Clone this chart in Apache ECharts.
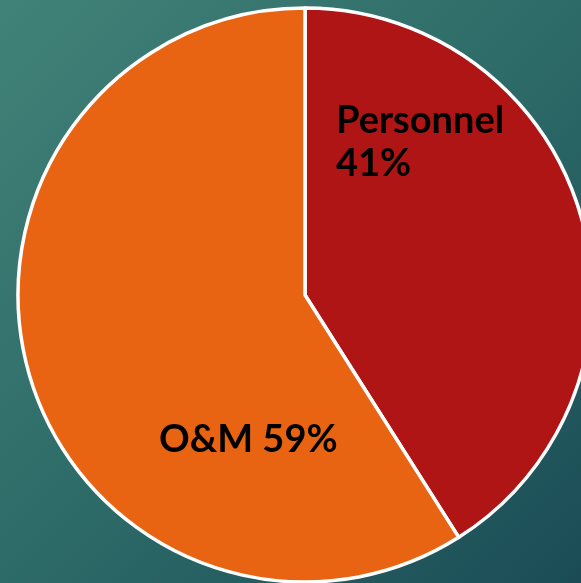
<!DOCTYPE html>
<html>
<head>
<meta charset="utf-8">
<style>
  html, body { margin: 0; padding: 0; }
  #chart {
    width: 581px; height: 583px;
    background: linear-gradient(135deg, #418278 0%, #2d6b68 50%, #1b4c56 100%);
  }
</style>
<script src="https://cdn.jsdelivr.net/npm/echarts@6/dist/echarts.min.js"></script>
</head>
<body>
<div id="chart"></div>
<script>
var categories = ['Personnel', 'O&M']
var values = [41, 59]
var colors = ['#b01515', '#e86412']

var chart = echarts.init(document.getElementById('chart'))

var pieData = []
for (var i = 0; i < categories.length; i++) {
  pieData.push({ name: categories[i], value: values[i], itemStyle: { color: colors[i] } })
}

var option = {
  backgroundColor: 'transparent',
  animation: false,
  series: [
    {
      type: 'pie',
      center: [305, 295],
      radius: [0, 287],
      startAngle: 90,
      clockwise: true,
      itemStyle: {
        borderColor: '#ffffff',
        borderWidth: 3.5,
      },
      label: {
        show: true,
        position: 'inside',
        color: '#000',
        fontFamily: 'Lato',
        fontWeight: 'bold',
        fontSize: 38,
        lineHeight: 43,
        align: 'left',
        formatter: function (p) {
          // personnel label wraps onto 2 lines
          if (p.dataIndex === 0) return p.name + '\n' + p.percent + '%'
          return p.name + ' ' + p.percent + '%'
        },
      },
      labelLine: { show: false },
      labelLayout: function (params) {
        if (params.dataIndex === 0) {
          return { x: 336, y: 142, align: 'left', verticalAlign: 'middle' }
        }
        return { x: 159, y: 440, align: 'left', verticalAlign: 'middle' }
      },
      data: pieData,
    },
  ],
}
chart.setOption(option)
</script>
</body>
</html>
